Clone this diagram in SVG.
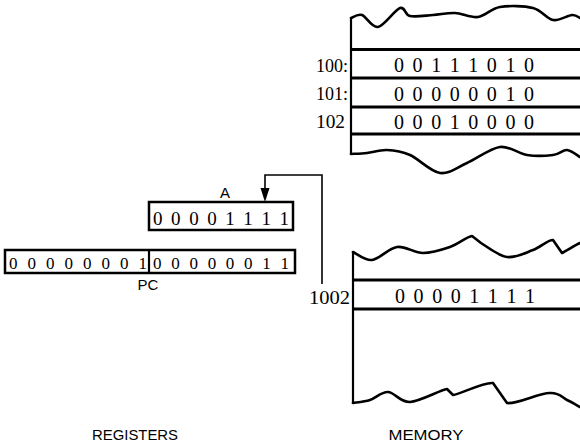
<svg xmlns="http://www.w3.org/2000/svg" width="580" height="447" viewBox="0 0 580 447">
<style>
.bits{font-family:"Liberation Serif","DejaVu Serif",serif;fill:#000}
.lbl{font-family:"Liberation Serif","DejaVu Serif",serif;font-size:18px;fill:#000}
.cap{font-family:"Liberation Sans","DejaVu Sans",sans-serif;font-size:15px;fill:#000}
.wave{fill:none;stroke:#000;stroke-width:2.6;stroke-linejoin:round;stroke-linecap:round}
.row{stroke:#000;stroke-width:3}
.edge{stroke:#000;stroke-width:2.2}
.box{fill:#fff;stroke:#000;stroke-width:2.5}
.conn{fill:none;stroke:#000;stroke-width:1.6}
</style>
<rect width="580" height="447" fill="#fff"/>

<g id="connectors">
<path class="conn" d="M322,284 V175 H265 V190"/>
<path d="M260.5,188 L269.5,188 L265,202 z" fill="#000"/>
</g>

<g id="memory-top">
<path class="wave" d="M351,18 C352.8,17.5 357.5,13.5 362,15 C366.5,16.5 371.7,28.2 378,27 C384.3,25.8 394.7,9.8 400,8 C405.3,6.2 404.5,14.8 410,16 C415.5,17.2 425.5,15.5 433,15 C440.5,14.5 447.5,12.7 455,13 C462.5,13.3 470.5,18 478,17 C485.5,16 490.8,8.5 500,7 C509.2,5.5 524.2,5.8 533,8 C541.8,10.2 546.5,18.8 553,20 C559.5,21.2 567.5,15.3 572,15 C576.5,14.7 578.7,17.5 580,18"/>
<line class="edge" x1="351" y1="17" x2="351" y2="155"/>
<line class="row" x1="351" y1="49.5" x2="580" y2="49.5"/>
<line class="row" x1="351" y1="78" x2="580" y2="78"/>
<line class="row" x1="351" y1="107" x2="580" y2="107"/>
<line class="row" x1="351" y1="134" x2="580" y2="134"/>
<path class="wave" d="M351,154 C353.7,153.8 361,153.7 367,153 C373,152.3 379.8,149.7 387,150 C394.2,150.3 401.2,151.2 410,155 C418.8,158.8 430.5,171.7 440,173 C449.5,174.3 457,167.3 467,163 C477,158.7 490,148.3 500,147 C510,145.7 518.2,153.7 527,155 C535.8,156.3 546.3,155.8 553,155 C559.7,154.2 562.5,149.7 567,150 C571.5,150.3 577.8,155.8 580,157"/>
<text class="lbl" x="316" y="72" textLength="32" lengthAdjust="spacingAndGlyphs">100:</text>
<text class="lbl" x="316" y="100" textLength="32" lengthAdjust="spacingAndGlyphs">101:</text>
<text class="lbl" x="316" y="128" textLength="29" lengthAdjust="spacingAndGlyphs">102</text>
<text class="bits" font-size="20" x="394" y="72" textLength="140" lengthAdjust="spacing">0 0 1 1 1 0 1 0</text>
<text class="bits" font-size="20" x="394" y="101" textLength="140" lengthAdjust="spacing">0 0 0 0 0 0 1 0</text>
<text class="bits" font-size="20" x="394" y="129" textLength="140" lengthAdjust="spacing">0 0 0 1 0 0 0 0</text>
</g>

<g id="register-A">
<rect class="box" x="149" y="202" width="144" height="28"/>
<text class="cap" font-size="12" x="225" y="198" text-anchor="middle">A</text>
<text class="bits" font-size="19" x="153" y="225" textLength="136" lengthAdjust="spacing">0 0 0 0 1 1 1 1</text>
</g>

<g id="register-PC">
<rect class="box" x="5" y="250" width="290" height="23"/>
<line class="edge" x1="149" y1="250" x2="149" y2="273"/>
<text class="bits" font-size="17" x="9" y="269" textLength="138" lengthAdjust="spacing">0 0 0 0 0 0 0 1</text>
<text class="bits" font-size="17" x="153" y="269" textLength="136" lengthAdjust="spacing">0 0 0 0 0 0 1 1</text>
<text class="cap" font-size="14" x="148" y="290" text-anchor="middle">PC</text>
</g>

<g id="memory-bottom">
<path class="wave" d="M353,252 C356.2,253.3 364.7,260.8 372,260 C379.3,259.2 388.5,248.2 397,247 C405.5,245.8 414.2,253 423,253 C431.8,253 441.8,249.8 450,247 C458.2,244.2 466.8,236.7 472,236 L481,243 C486.8,246.5 498.3,255.8 507,257 C515.7,258.2 525.3,252.8 533,250 C540.7,247.2 548.2,239.5 553,240 L562,253 C568,250 575,245 580,243"/>
<line class="edge" x1="353" y1="251" x2="353" y2="404"/>
<line class="row" x1="353" y1="280" x2="580" y2="280"/>
<line class="row" x1="353" y1="309" x2="580" y2="309"/>
<path class="wave" d="M353,403 C355.8,402.5 364.2,401.8 370,400 C375.8,398.2 381.3,391.7 388,392 C394.7,392.3 400.2,402.5 410,402 C419.8,401.5 439.8,390.2 447,389 L453,395 C460.7,394 484,381.7 493,383 L507,403 C516.5,404.7 540,392.5 550,393 C560,392.5 562,397.7 567,400 C572,402.3 577.8,405.8 580,407"/>
<text class="lbl" x="309" y="304" textLength="41" lengthAdjust="spacingAndGlyphs">1002</text>
<text class="bits" font-size="20" x="395" y="303" textLength="140" lengthAdjust="spacing">0 0 0 0 1 1 1 1</text>
</g>

<text class="cap" font-size="16" x="135" y="440" text-anchor="middle" textLength="86" lengthAdjust="spacingAndGlyphs">REGISTERS</text>
<text class="cap" font-size="16" x="426" y="440" text-anchor="middle" textLength="75" lengthAdjust="spacingAndGlyphs">MEMORY</text>
</svg>
